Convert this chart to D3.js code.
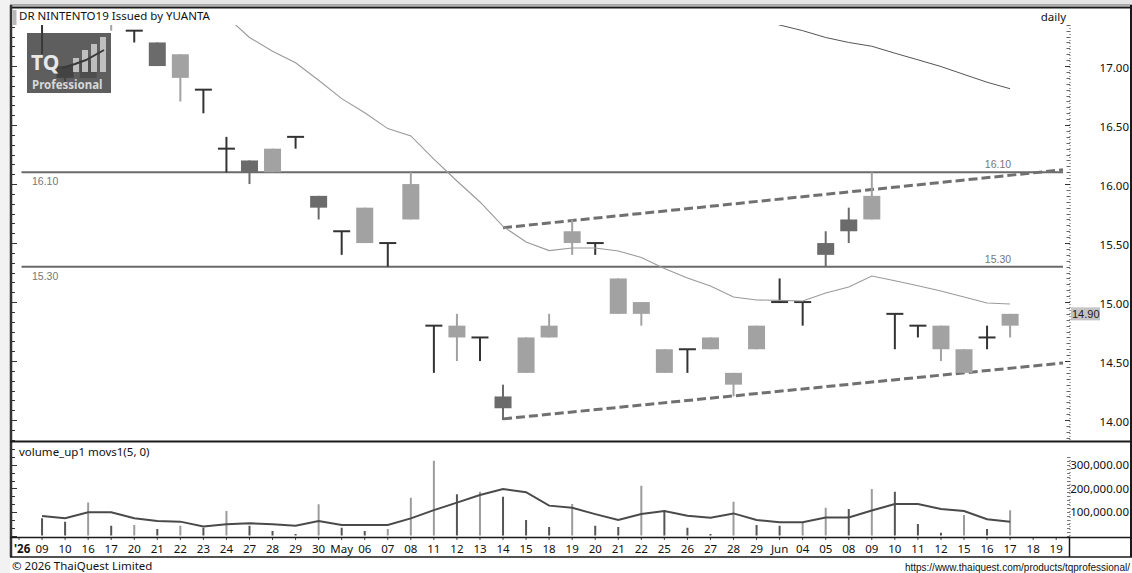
<!DOCTYPE html>
<html><head><meta charset="utf-8">
<script src="https://cdn.jsdelivr.net/npm/d3@7"></script>
<style>
body{margin:0;background:#fff;}
svg{display:block;font-family:"Noto Sans",sans-serif;}
</style>
</head><body>
<svg id="c" width="1132" height="573"></svg>
<script>
// ---------------- data ----------------
const dateKeys = ["04-08","04-09","04-10","04-16","04-17","04-20","04-21","04-22","04-23","04-24","04-27","04-28","04-29","04-30","05-05","05-06","05-07","05-08","05-11","05-12","05-13","05-14","05-15","05-18","05-19","05-20","05-21","05-22","05-25","05-26","05-27","05-28","05-29","06-02","06-04","06-05","06-08","06-09","06-10","06-11","06-12","06-15","06-16","06-17","06-18","06-19"];
const dateLabels = ["'26","09","10","16","17","20","21","22","23","24","27","28","29","30","May","06","07","08","11","12","13","14","15","18","19","20","21","22","25","26","27","28","29","Jun","04","05","08","09","10","11","12","15","16","17","18","19"];
const opens  = [null,17.40,17.00,16.90,17.40,17.30,17.20,16.90,16.80,16.30,16.20,16.10,16.40,15.90,15.60,15.50,15.50,15.70,14.80,14.70,14.70,14.20,14.40,14.70,15.50,15.50,14.90,14.90,14.40,14.60,14.60,14.30,14.60,15.00,15.00,15.50,15.70,15.70,14.90,14.80,14.60,14.40,14.70,14.80,null,null];
const highs  = [null,17.40,17.00,17.05,17.60,17.30,17.20,17.10,16.80,16.40,16.20,16.30,16.40,15.90,15.60,15.80,15.50,16.10,14.80,14.90,14.70,14.30,14.70,14.90,15.70,15.50,15.20,15.00,14.60,14.60,14.70,14.40,14.80,15.20,15.00,15.60,15.80,16.10,14.90,14.80,14.80,14.60,14.80,14.90,null,null];
const lows   = [null,17.10,16.80,16.90,17.30,17.20,17.00,16.70,16.60,16.10,16.00,16.10,16.30,15.70,15.40,15.50,15.30,15.70,14.40,14.50,14.50,14.00,14.40,14.70,15.40,15.40,14.90,14.80,14.40,14.40,14.60,14.20,14.60,15.00,14.80,15.30,15.50,15.70,14.60,14.70,14.50,14.40,14.60,14.70,null,null];
const closes = [null,17.40,16.90,17.05,17.50,17.30,17.00,17.10,16.80,16.30,16.10,16.30,16.40,15.80,15.60,15.80,15.50,16.00,14.80,14.80,14.70,14.10,14.70,14.80,15.60,15.50,15.20,15.00,14.60,14.60,14.70,14.40,14.80,15.00,15.00,15.40,15.60,15.90,14.90,14.80,14.80,14.60,14.70,14.90,null,null];
const priceMA = [null,null,null,null,null,null,null,null,null,17.42,17.242,17.125,17.028,16.880,16.724,16.605,16.470,16.408,16.212,16.026,15.848,15.641,15.509,15.436,15.458,15.458,15.433,15.378,15.285,15.204,15.137,15.043,15.018,15.014,15.009,15.077,15.128,15.221,15.181,15.138,15.094,15.043,14.992,14.984,null,null];
const priceMALong = [null,null,null,null,null,null,null,null,null,null,null,null,null,null,null,null,null,null,null,null,null,null,null,null,null,null,null,null,null,null,null,null,17.40,17.348,17.30,17.242,17.20,17.168,17.109,17.053,16.996,16.929,16.863,16.808,null,null];
const volumes = [null,73000,59000,140000,42000,45000,28000,42000,33000,104000,42000,19000,6000,133000,33000,19000,28000,161000,318000,175000,186000,165000,66000,36000,134000,42000,36000,212000,107000,33000,6000,144000,45000,42000,56000,118000,113000,198000,186000,49000,12000,87000,28000,107000,null,null];
const volumeLight = [null,0,0,1,0,1,0,1,0,1,0,0,0,1,0,0,1,1,1,0,1,0,0,0,1,0,0,1,0,0,0,1,0,0,1,1,0,1,0,0,0,1,0,1,null,null];
const volumeMA = [null,83000,73000,99000,99000,73000,62000,59000,38000,48000,52000,48000,42000,62000,45000,45000,45000,73000,108000,140000,172000,198000,184000,127000,118000,91000,66000,91000,104000,84000,76000,94000,66000,56000,56000,77000,77000,106000,134000,134000,113000,104000,69000,59000,null,null];
const levelLines = [16.10, 15.30];
const trendUpper = [{d:"05-14", p:15.63}, {d:"06-19", p:16.115}];
const trendLower = [{d:"05-14", p:14.01}, {d:"06-19", p:14.478}];
const priceTicks = [14.00,14.50,15.00,15.50,16.00,16.50,17.00];
const volumeTicks = [100000,200000,300000];
const lastPrice = 14.90;

// ---------------- layout ----------------
const svg = d3.select("#c");
const plotL = 12, plotR = 1068, plotT = 25, plotB = 440;
const volT = 441, volB = 535.5;

const x = d3.scalePoint().domain(dateKeys).range([19, 1056.2]);
const y = d3.scaleLinear().domain([13.831, 17.348]).range([plotB, plotT]);
const yv = d3.scaleLinear().domain([0, 402000]).range([volB, volT]);

// background strips
svg.append("rect").attr("x",0).attr("y",0).attr("width",1132).attr("height",5).attr("fill","#e4e4e4");
svg.append("rect").attr("x",0).attr("y",0).attr("width",10).attr("height",573).attr("fill","#f2f2f2");
svg.append("rect").attr("x",10).attr("y",557).attr("width",1122).attr("height",16).attr("fill","#fff");

// clip
svg.append("clipPath").attr("id","pc").append("rect").attr("x",plotL).attr("y",plotT).attr("width",plotR-plotL).attr("height",plotB-plotT);
svg.append("clipPath").attr("id","vc").append("rect").attr("x",plotL).attr("y",volT).attr("width",plotR-plotL).attr("height",volB-volT+2);

const main = svg.append("g").attr("clip-path","url(#pc)");
const idx = d3.range(dateKeys.length);

// level lines
levelLines.forEach(v=>{
  main.append("line").attr("x1",21.5).attr("x2",1063).attr("y1",y(v)).attr("y2",y(v))
    .attr("stroke","#6a6a6a").attr("stroke-width",2);
});

// MA lines
const lineGen = arr => d3.line().defined(i=>arr[i]!=null).x(i=>x(dateKeys[i])).y(i=>y(arr[i]))(idx);
svg.append("path").attr("d",lineGen(priceMA)).attr("fill","none").attr("stroke","#9a9a9a").attr("stroke-width",1.1).attr("clip-path","url(#pc)");
svg.append("path").attr("d",lineGen(priceMALong)).attr("fill","none").attr("stroke","#555").attr("stroke-width",1).attr("clip-path","url(#pc)");

// trend lines (dashed), extended to right edge
function trend(t){
  const x1 = x(t[0].d), y1 = y(t[0].p), x2 = x(t[1].d), y2 = y(t[1].p);
  const xe = 1063;
  const ye = y1 + (y2-y1)*(xe-x1)/(x2-x1);
  main.append("line").attr("x1",x1).attr("y1",y1).attr("x2",xe).attr("y2",ye)
    .attr("stroke","#707070").attr("stroke-width",3).attr("stroke-dasharray","9,4");
}
trend(trendUpper); trend(trendLower);

// candles
const bw = 17;
const colUp = "#a2a2a2", colDn = "#6b6b6b", colDoji = "#333";
idx.forEach(i=>{
  if (opens[i]==null) return;
  const cx = x(dateKeys[i]);
  const o=opens[i], c=closes[i], h=highs[i], l=lows[i];
  const col = c>o ? colUp : (c<o ? colDn : colDoji);
  main.append("line").attr("x1",cx).attr("x2",cx).attr("y1",y(h)).attr("y2",y(l)).attr("stroke",col).attr("stroke-width",2);
  if (c===o){
    main.append("line").attr("x1",cx-bw/2).attr("x2",cx+bw/2).attr("y1",y(o)).attr("y2",y(o)).attr("stroke",col).attr("stroke-width",2);
  } else {
    main.append("rect").attr("x",cx-bw/2).attr("width",bw).attr("y",y(Math.max(o,c))).attr("height",Math.abs(y(o)-y(c))).attr("fill",col);
  }
});

// level labels
svg.append("g").selectAll("text.lv").data(levelLines).join("text")
  .attr("x",32).attr("y",v=>y(v)+13).text(v=>v.toFixed(2))
  .attr("font-family","Liberation Sans, Arial").attr("font-size",10.5).attr("fill","#777");
svg.append("g").selectAll("text.lv2").data(levelLines).join("text")
  .attr("x",x("06-17")+1).attr("y",v=>y(v)-4).attr("text-anchor","end").text(v=>v.toFixed(2))
  .attr("font-family","Liberation Sans, Arial").attr("font-size",10.5).attr("fill","#777");

// volume
const vol = svg.append("g").attr("clip-path","url(#vc)");
idx.forEach(i=>{
  if (volumes[i]==null) return;
  const cx = x(dateKeys[i]);
  vol.append("line").attr("x1",cx).attr("x2",cx).attr("y1",yv(0)).attr("y2",yv(volumes[i]))
    .attr("stroke", volumeLight[i] ? "#9c9c9c" : "#555").attr("stroke-width",2);
});
vol.append("path").attr("d", d3.line().defined(i=>volumeMA[i]!=null).x(i=>x(dateKeys[i])).y(i=>yv(volumeMA[i]))(idx))
  .attr("fill","none").attr("stroke","#4a4a4a").attr("stroke-width",2);

// ---------------- axes ----------------
// right price axis
svg.append("line").attr("x1",1070).attr("x2",1070).attr("y1",plotT).attr("y2",plotB).attr("stroke","#555").attr("stroke-dasharray","1,2");
const minorP = d3.range(13.85, 17.35, 0.05);
svg.append("g").selectAll("line").data(minorP).join("line")
  .attr("x1",1066.5).attr("x2",1070).attr("y1",v=>Math.round(y(v))+0.5).attr("y2",v=>Math.round(y(v))+0.5).attr("stroke","#666").attr("stroke-width",1);
svg.append("g").selectAll("line").data(priceTicks).join("line")
  .attr("x1",1065).attr("x2",1070).attr("y1",v=>Math.round(y(v))+0.5).attr("y2",v=>Math.round(y(v))+0.5).attr("stroke","#333").attr("stroke-width",1);
svg.append("g").selectAll("text").data(priceTicks).join("text")
  .attr("x",1129).attr("y",v=>y(v)+6).attr("text-anchor","end").attr("font-size",11.5).attr("fill","#111")
  .text(v=>v.toFixed(2));

// last price box
svg.append("rect").attr("x",1071).attr("y",y(lastPrice)-6.5).attr("width",29).attr("height",13).attr("fill","#c4c4c4");
svg.append("text").attr("x",1072).attr("y",y(lastPrice)+4).attr("font-family","Liberation Sans, Arial").attr("font-size",11).attr("fill","#222").text(lastPrice.toFixed(2));

// left price axis ticks
const leftP = d3.range(0, 60).map(k=>13.5 + k*0.5/6).filter(v=>y(v)>=plotT && y(v)<=plotB);
svg.append("g").selectAll("line").data(leftP).join("line")
  .attr("x1",12).attr("x2",(v,k)=> (Math.abs(v*2-Math.round(v*2))<1e-6) ? 17 : 15)
  .attr("y1",v=>Math.round(y(v))+0.5).attr("y2",v=>Math.round(y(v))+0.5).attr("stroke","#333");

// right volume axis
svg.append("line").attr("x1",1070).attr("x2",1070).attr("y1",457).attr("y2",537).attr("stroke","#555").attr("stroke-dasharray","1,2");
const minorV = d3.range(0, 340000, 100000/6);
svg.append("g").selectAll("line").data(minorV).join("line")
  .attr("x1",1067).attr("x2",1070).attr("y1",v=>Math.round(yv(v))+0.5).attr("y2",v=>Math.round(yv(v))+0.5).attr("stroke","#777");
svg.append("g").selectAll("text").data(volumeTicks).join("text")
  .attr("x",1129).attr("y",v=>yv(v)+4.5).attr("text-anchor","end").attr("font-size",11.5).attr("fill","#111")
  .text(v=>d3.format(",.2f")(v));
// left volume ticks
const leftV = d3.range(0, 13).map(k=>k*100000/3).filter(v=>yv(v)>=volT+8);
svg.append("g").selectAll("line").data(leftV).join("line")
  .attr("x1",12).attr("x2",(v,k)=> k%3===0 ? 17 : 15)
  .attr("y1",v=>Math.round(yv(v))+0.5).attr("y2",v=>Math.round(yv(v))+0.5).attr("stroke","#333");

// date axis
svg.append("g").selectAll("line").data(dateKeys).join("line")
  .attr("x1",d=>x(d)).attr("x2",d=>x(d)).attr("y1",537).attr("y2",540).attr("stroke","#444");
svg.append("g").selectAll("text").data(dateKeys).join("text")
  .attr("x",(d,i)=> i===0 ? 14 : x(d)).attr("y",552.5)
  .attr("text-anchor",(d,i)=> i===0 ? "start" : "middle").attr("font-size",11.5).attr("fill","#111")
  .attr("font-weight",(d,i)=> i===0 ? "bold" : "normal")
  .text((d,i)=>dateLabels[i]);

// ---------------- frame ----------------
const frame = svg.append("g").attr("stroke","#1a1a1a");
frame.append("line").attr("x1",10).attr("x2",1132).attr("y1",5).attr("y2",5).attr("stroke","#666").attr("stroke-width",1);
frame.append("line").attr("x1",10).attr("x2",1132).attr("y1",7.5).attr("y2",7.5).attr("stroke-width",2);
frame.append("line").attr("x1",11).attr("x2",11).attr("y1",5).attr("y2",557).attr("stroke","#333").attr("stroke-width",2.5);
frame.append("line").attr("x1",1131).attr("x2",1131).attr("y1",5).attr("y2",557).attr("stroke-width",2);
frame.append("line").attr("x1",10).attr("x2",1132).attr("y1",441.5).attr("y2",441.5).attr("stroke-width",2);
frame.append("line").attr("x1",10).attr("x2",1132).attr("y1",537.5).attr("y2",537.5).attr("stroke-width",1.5);
frame.append("line").attr("x1",10).attr("x2",1132).attr("y1",557).attr("y2",557).attr("stroke-width",1.5);
frame.append("line").attr("x1",1069.5).attr("x2",1069.5).attr("y1",537).attr("y2",557).attr("stroke-width",1.5);
svg.append("rect").attr("x",12.5).attr("y",10).attr("width",4).attr("height",15).attr("fill","#b8b8b8");

// titles
svg.append("text").attr("x",19).attr("y",20).attr("font-size",11.5).attr("fill","#111").text("DR NINTENTO19 Issued by YUANTA");
svg.append("text").attr("x",1066).attr("y",21).attr("text-anchor","end").attr("font-size",11.5).attr("fill","#111").text("daily");
svg.append("text").attr("x",19).attr("y",456).attr("font-size",11.5).attr("fill","#111").text("volume_up1 movs1(5, 0)");
svg.append("text").attr("x",12).attr("y",570).attr("font-size",11.5).attr("fill","#111").text("\u00a9 2026 ThaiQuest Limited");
svg.append("text").attr("x",1130).attr("y",571).attr("text-anchor","end").attr("font-family","Liberation Sans, Arial").attr("font-size",10).attr("fill","#111").text("https://www.thaiquest.com/products/tqprofessional/");

// logo
const logo = svg.append("g");
logo.append("rect").attr("x",27).attr("y",33).attr("width",84).attr("height",60).attr("fill","#3a3a3a").attr("opacity",0.82);
logo.append("text").attr("x",31).attr("y",70).attr("font-size",21).attr("font-weight","bold").attr("fill","#e8e8e8").text("TQ");
[[73,58,14],[82,50,22],[91,44,28],[100,37,35]].forEach(b=>{
  logo.append("rect").attr("x",b[0]).attr("y",b[1]).attr("width",6).attr("height",b[2]).attr("fill","#d0d0d0").attr("opacity",0.85);
});
logo.append("path").attr("d","M62,68 L75,64 L86,60 L104,50").attr("stroke","#3a3a3a").attr("stroke-width",2).attr("fill","none");
logo.append("text").attr("x",32).attr("y",89).attr("font-size",11.5).attr("font-weight","bold").attr("fill","#d8d8d8").text("Professional");
</script>
</body></html>
